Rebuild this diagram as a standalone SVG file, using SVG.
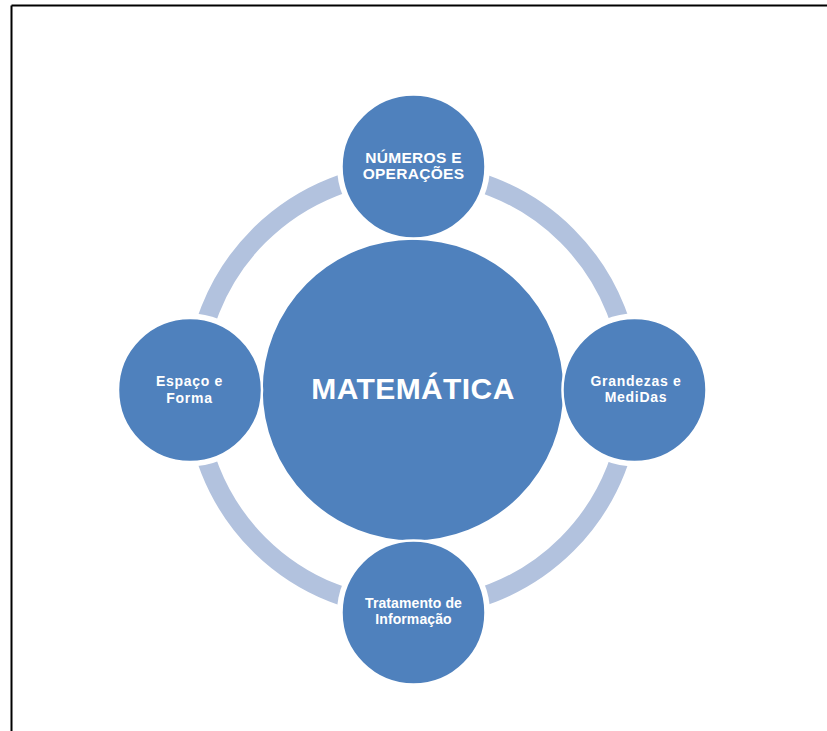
<svg xmlns="http://www.w3.org/2000/svg" width="827" height="731" viewBox="0 0 827 731">
  <style>
    .node { fill: #4F81BD; stroke: #FFFFFF; stroke-width: 2.5; }
    .halo { fill: #FFFFFF; }
    .ring { fill: none; stroke: #B2C2DE; stroke-width: 19; }
    .frame { stroke: #000000; stroke-width: 2; fill: none; }
    .lbl { font-family: "Liberation Sans", Arial, sans-serif; font-weight: bold; fill: #FFFFFF; text-anchor: middle; }
    .caps { font-size: 15.5px; letter-spacing: 0.3px; }
    .small { font-size: 14px; letter-spacing: 0.7px; }
    .main { font-size: 30px; letter-spacing: 0.4px; }
  </style>

  <rect x="0" y="0" width="827" height="731" fill="#FFFFFF"/>
  <!-- page frame: top and left edges -->
  <path class="frame" d="M11.5 5.5 H827 M11.5 5.5 V731"/>

  <!-- cycle ring linking the outer nodes -->
  <g id="connectors">
    <circle class="ring" cx="413" cy="390" r="218"/>
    <circle class="halo" cx="413.5" cy="166.5" r="76.5"/>
    <circle class="halo" cx="634.5" cy="390" r="76.5"/>
    <circle class="halo" cx="413.5" cy="612.5" r="76.5"/>
    <circle class="halo" cx="190" cy="390" r="76.5"/>
  </g>

  <g id="matematica">
    <circle class="node" cx="413" cy="390" r="151.5"/>
    <text class="lbl main" x="413" y="398.5">MATEMÁTICA</text>
  </g>

  <g id="numeros-operacoes">
    <circle class="node" cx="413.5" cy="166.5" r="72"/>
    <text class="lbl caps" x="413.5" y="163">NÚMEROS E</text>
    <text class="lbl caps" x="413.5" y="179">OPERAÇÕES</text>
  </g>

  <g id="grandezas-medidas">
    <circle class="node" cx="634.5" cy="390" r="72"/>
    <text class="lbl small" x="636" y="386">Grandezas e</text>
    <text class="lbl small" x="636" y="402">MediDas</text>
  </g>

  <g id="tratamento-informacao">
    <circle class="node" cx="413.5" cy="612.5" r="72"/>
    <text class="lbl small" x="413.5" y="608" style="letter-spacing:0.1px">Tratamento de</text>
    <text class="lbl small" x="413.5" y="624" style="letter-spacing:0.1px">Informação</text>
  </g>

  <g id="espaco-forma">
    <circle class="node" cx="190" cy="390" r="72"/>
    <text class="lbl small" x="189.5" y="386">Espaço e</text>
    <text class="lbl small" x="189.5" y="403">Forma</text>
  </g>
</svg>
